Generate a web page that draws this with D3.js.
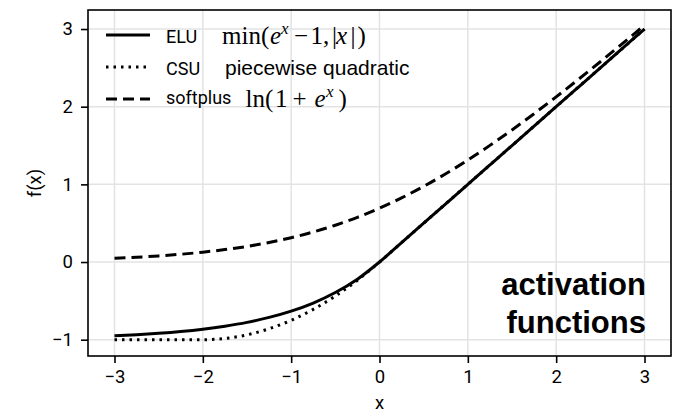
<!DOCTYPE html>
<html><head><meta charset="utf-8">
<script src="https://cdn.jsdelivr.net/npm/d3@7"></script>
<style>
body{margin:0;background:#fff;}
svg{display:block;}
</style></head>
<body>
<svg id="c" width="675" height="415"></svg>
<script>
// ---- data ----
const xs = [-3,-2.75,-2.5,-2.25,-2,-1.75,-1.5,-1.25,-1,-0.75,-0.5,-0.25,0,0.25,0.5,0.75,1,1.25,1.5,1.75,2,2.25,2.5,2.75,3];
const elu = [-0.950,-0.936,-0.918,-0.895,-0.865,-0.826,-0.777,-0.713,-0.632,-0.528,-0.393,-0.221,0,0.25,0.5,0.75,1,1.25,1.5,1.75,2,2.25,2.5,2.75,3];
const csu = [-1,-1,-1,-1,-1,-0.984,-0.938,-0.859,-0.750,-0.609,-0.438,-0.234,0,0.25,0.5,0.75,1,1.25,1.5,1.75,2,2.25,2.5,2.75,3];
const softplus = [0.049,0.062,0.079,0.100,0.127,0.160,0.201,0.252,0.313,0.387,0.474,0.576,0.693,0.826,0.974,1.137,1.313,1.502,1.701,1.910,2.127,2.350,2.579,2.812,3.049];
const xTicks = [-3,-2,-1,0,1,2,3];
const yTicks = [-1,0,1,2,3];
const seriesNames = ["ELU","CSU","softplus"];

const svg = d3.select("#c");
const L = 88, R = 671, T = 10, B = 356;
const x = d3.scaleLinear().domain([-3.3,3.3]).range([L,R]);
const y = d3.scaleLinear().domain([-1.21,3.245]).range([B,T]);

// grid
const g = svg.append("g");
g.selectAll("line.gx").data(xTicks).join("line")
  .attr("x1",d=>x(d)).attr("x2",d=>x(d)).attr("y1",T).attr("y2",B)
  .attr("stroke","#e3e3e3").attr("stroke-width",1.5);
g.selectAll("line.gy").data(yTicks).join("line")
  .attr("y1",d=>y(d)).attr("y2",d=>y(d)).attr("x1",L).attr("x2",R)
  .attr("stroke","#e3e3e3").attr("stroke-width",1.5);

// lines
const mk = vals => d3.line().x((d,i)=>x(xs[i])).y(d=>y(d)).curve(d3.curveMonotoneX)(vals);
svg.append("path").attr("d",mk(softplus)).attr("fill","none").attr("stroke","#000")
  .attr("stroke-width",3).attr("stroke-dasharray","11,6");
svg.append("path").attr("d",mk(csu)).attr("fill","none").attr("stroke","#000")
  .attr("stroke-width",3).attr("stroke-dasharray","2.5,5").attr("stroke-linecap","butt");
svg.append("path").attr("d",mk(elu)).attr("fill","none").attr("stroke","#000")
  .attr("stroke-width",3);

// frame
svg.append("rect").attr("x",L).attr("y",T).attr("width",R-L).attr("height",B-T)
  .attr("fill","none").attr("stroke","#000").attr("stroke-width",1.6);

// axes
const fmt = d => d<0 ? "\u2212"+Math.abs(d) : String(d);
const ax = svg.append("g").attr("transform",`translate(0,${B})`)
  .call(d3.axisBottom(x).tickValues(xTicks).tickFormat(fmt).tickSize(7).tickPadding(7));
const ay = svg.append("g").attr("transform",`translate(${L},0)`)
  .call(d3.axisLeft(y).tickValues(yTicks).tickFormat(fmt).tickSize(7).tickPadding(8));
[ax,ay].forEach(a=>{
  a.select(".domain").remove();
  a.selectAll(".tick line").attr("stroke","#000").attr("stroke-width",1.6);
  a.selectAll(".tick text").attr("fill","#000").style("font-family","Roboto").style("font-size","18.5px");
});

// axis titles
svg.append("text").attr("x",379.5).attr("y",409).attr("text-anchor","middle")
  .style("font-family","Roboto").style("font-size","18.5px").text("x");
svg.append("text").attr("transform","translate(41,183) rotate(-90)").attr("text-anchor","middle")
  .style("font-family","Roboto").style("font-size","18.5px").text("f(x)");

// legend
const legY = [35,67,99];
const labY = [42.7,75,103.5];
const dashes = [null,"2.5,5","11,6"];
legY.forEach((yy,i)=>{
  svg.append("line").attr("x1",106).attr("x2",150).attr("y1",yy).attr("y2",yy)
    .attr("stroke","#000").attr("stroke-width",3).attr("stroke-dasharray",dashes[i]);
  svg.append("text").attr("x",166).attr("y",labY[i])
    .style("font-family","Roboto").style("font-size","18px").text(seriesNames[i]);
});
// formulas
const serif = "Liberation Serif";
const m1 = svg.append("text").attr("y",44).style("font-family",serif).style("font-size","25px");
m1.append("tspan").attr("x",222).text("min(");
m1.append("tspan").attr("x",270).style("font-style","italic").text("e");
m1.append("tspan").attr("x",281).attr("dy",-10).style("font-style","italic").style("font-size","17px").text("x");
m1.append("tspan").attr("x",294).attr("dy",10).text("\u2212");
m1.append("tspan").attr("x",310.5).text("1,");
m1.append("tspan").attr("x",332).text("|");
m1.append("tspan").attr("x",336).style("font-style","italic").text("x");
m1.append("tspan").attr("x",350.5).text("|");
m1.append("tspan").attr("x",357.5).text(")");

svg.append("text").attr("x",225).attr("y",75).style("font-family","Liberation Sans").style("font-size","21px")
  .text("piecewise quadratic");

const m3 = svg.append("text").attr("y",107).style("font-family",serif).style("font-size","25px");
m3.append("tspan").attr("x",245.5).text("ln(");
m3.append("tspan").attr("x",275).text("1");
m3.append("tspan").attr("x",292.5).text("+");
m3.append("tspan").attr("x",314.5).style("font-style","italic").text("e");
m3.append("tspan").attr("x",326).attr("dy",-10).style("font-style","italic").style("font-size","17px").text("x");
m3.append("tspan").attr("x",338.5).attr("dy",10).text(")");

// annotation
svg.append("text").attr("x",646).attr("y",295).attr("text-anchor","end")
  .style("font-family","Liberation Sans").style("font-weight","bold").style("font-size","31px").text("activation");
svg.append("text").attr("x",646).attr("y",333).attr("text-anchor","end")
  .style("font-family","Liberation Sans").style("font-weight","bold").style("font-size","31px").text("functions");
</script>
</body></html>
